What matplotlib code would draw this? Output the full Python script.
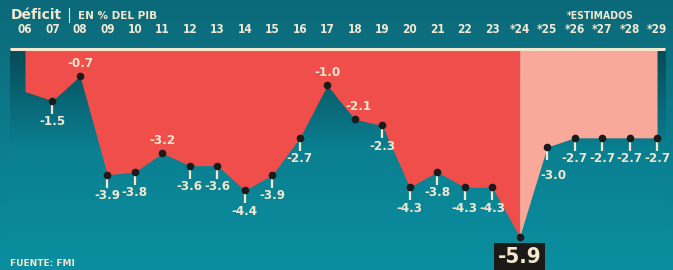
import matplotlib

matplotlib.use("Agg")
import matplotlib.pyplot as plt
import numpy as np
from matplotlib.colors import LinearSegmentedColormap

# deficit as % of GDP, IMF (2024-2029 estimated)
years = ["06", "07", "08", "09", "10", "11", "12", "13", "14", "15", "16", "17",
         "18", "19", "20", "21", "22", "23", "*24", "*25", "*26", "*27", "*28", "*29"]
values = [-1.2, -1.5, -0.7, -3.9, -3.8, -3.2, -3.6, -3.6, -4.4, -3.9, -2.7, -1.0,
          -2.1, -2.3, -4.3, -3.8, -4.3, -4.3, -5.9, -3.0, -2.7, -2.7, -2.7, -2.7]
first_estimate = "*24"
labels_above = ["08", "11", "17", "18"]

CREAM = "#f3e7cf"
RED = "#f04e4a"
PINK = "#f8a99a"
NUM = dict(family="DejaVu Sans", fontstretch="condensed", fontweight="bold", color=CREAM)

W, H = 673, 270
fig = plt.figure(figsize=(W / 100, H / 100), dpi=100)
ax = fig.add_axes([0, 0, 1, 1])

# pixel mapping: 06 at px 25, *29 at px 657; 0 at py 54.4, 30.9 px per unit
px_per_x = (657 - 25) / (len(years) - 1)
px_per_y = 30.9
x0, y0 = 25, 54.4
xlim = (-x0 / px_per_x, (W - x0) / px_per_x)
ylim = (-(H - y0) / px_per_y, y0 / px_per_y)
ax.set_xlim(*xlim)
ax.set_ylim(*ylim)
ax.axis("off")

xs = np.arange(len(years))
vals = np.array(values)
top = 0.14
px = 1 / px_per_y  # one pixel in y data units

# background gradients
outer = LinearSegmentedColormap.from_list("outer", ["#0c6979", "#0a8fa0"])
ax.imshow(np.linspace(0, 1, 256)[:, None], cmap=outer, aspect="auto",
          extent=[xlim[0], xlim[1], ylim[0], ylim[1]], origin="upper", zorder=0)
panel = LinearSegmentedColormap.from_list("panel", ["#064a58", "#0a7f90", "#0a8c9d"])
ax.imshow(np.linspace(0, 1, 256)[:, None], cmap=panel, aspect="auto",
          extent=[-0.55, len(years) - 1 + 0.3, -6.2, top], origin="upper", zorder=1)

# filled area: red for actuals, pink for estimates
k = years.index(first_estimate)
ax.fill_between(xs[:k + 1], vals[:k + 1], top, color=RED, lw=0, zorder=2)
ax.fill_between(xs[k:], vals[k:], top, color=PINK, lw=0, zorder=2)
ax.plot([-0.55, len(years) - 1 + 0.3], [top + 1.5 * px] * 2, color=CREAM, lw=2.2,
        solid_capstyle="butt", zorder=3)

# year labels
for x, yr in zip(xs, years):
    ax.text(x, (y0 - 29.5) * px, yr, fontsize=8.5, ha="center", va="center", zorder=5, **NUM)

# markers, ticks, value labels
for x, yr, v in zip(xs[1:], years[1:], vals[1:]):
    ax.plot(x, v, "o", color="#1b1b1b", ms=4.5, zorder=6)
    txt = f"{v:.1f}"
    if yr == first_estimate:
        ax.text(x, v - 20 * px, txt, fontsize=16, ha="center", va="center", zorder=7,
                bbox=dict(boxstyle="square,pad=0.15", fc="#1c1a17", ec="none"), **NUM)
        continue
    if yr in labels_above:
        dx = 0.15 if yr == "18" else 0
        ax.text(x + dx, v + 13 * px, txt, fontsize=9.5, ha="center", va="center",
                zorder=7, **NUM)
        continue
    ax.vlines(x, v - 4 * px, v - 13 * px, color=CREAM, lw=1.6, zorder=5)
    if yr == "*25":
        ax.text(x + 0.22, v - 28 * px, txt, fontsize=9.5, ha="center", va="center",
                zorder=7, **NUM)
    else:
        ax.text(x, v - 21 * px, txt, fontsize=9.5, ha="center", va="center",
                zorder=7, **NUM)


# header and source
def at(px_x, px_y):
    return (px_x - x0) / px_per_x, (y0 - px_y) / px_per_y


ax.text(*at(11, 15), "Déficit", color=CREAM, fontsize=10, fontweight="bold",
        ha="left", va="center", zorder=7)
ax.plot(*zip(at(69, 8), at(69, 22)), color=CREAM, lw=0.8, zorder=7)
ax.text(*at(78, 16), "EN % DEL PIB", color=CREAM, fontsize=7.5, fontweight="bold",
        ha="left", va="center", zorder=7)
ax.text(*at(567, 16), "*ESTIMADOS", fontsize=7.5, ha="left", va="center", zorder=7, **NUM)
ax.text(*at(10, 264), "FUENTE: FMI", color=CREAM, fontsize=6.5, fontweight="bold",
        ha="left", va="center", zorder=7)

fig.savefig("out.png", dpi=100)
